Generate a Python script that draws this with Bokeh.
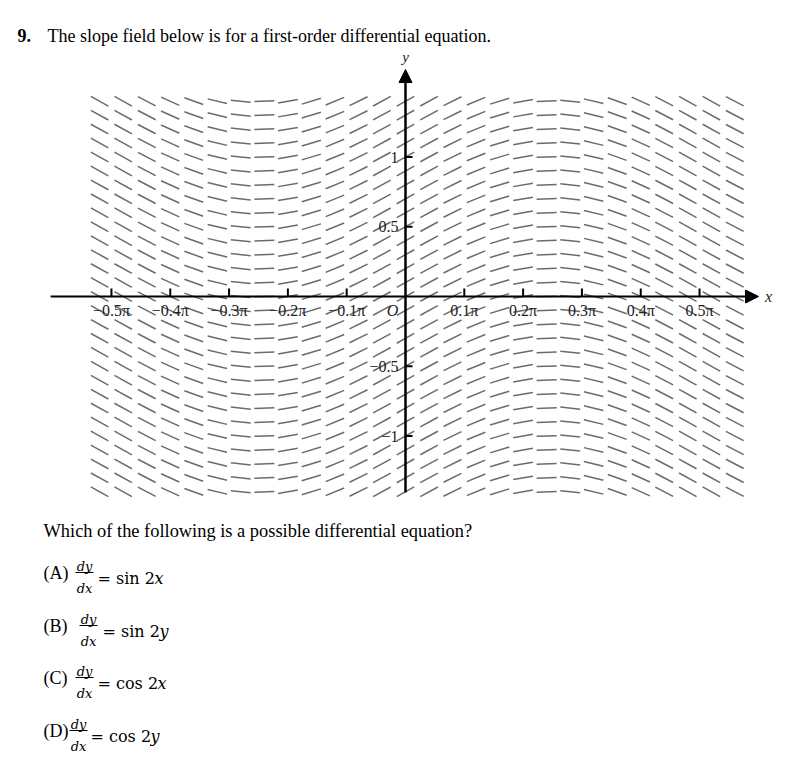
import math
from bokeh.plotting import figure
from bokeh.models import Range1d, Label, Arrow, NormalHead, BoxAnnotation, ColumnDataSource
from bokeh.core.properties import value
from bokeh.embed import file_html
from bokeh.resources import INLINE

# ---------------- data ----------------
# slope-field column positions (x, in radians) and the slope drawn in each column
x_cols = [-1.634, -1.508, -1.382, -1.257, -1.131, -1.005, -0.880, -0.754, -0.628,
          -0.503, -0.377, -0.251, -0.126, 0.000, 0.126, 0.251, 0.377, 0.503,
          0.628, 0.754, 0.880, 1.005, 1.131, 1.257, 1.382, 1.508, 1.634, 1.759]
col_slopes = [-0.99, -0.99, -0.93, -0.81, -0.64, -0.43, -0.19, 0.06, 0.31,
              0.54, 0.73, 0.88, 0.97, 1.00, 0.97, 0.88, 0.73, 0.54,
              0.31, 0.06, -0.19, -0.43, -0.64, -0.81, -0.93, -0.99, -0.99, -0.93]
# slope-field row positions (y)
y_rows = [-1.4, -1.3, -1.2, -1.1, -1.0, -0.9, -0.8, -0.7, -0.6, -0.5, -0.4, -0.3,
          -0.2, -0.1, 0.0, 0.1, 0.2, 0.3, 0.4, 0.5, 0.6, 0.7, 0.8, 0.9, 1.0,
          1.1, 1.2, 1.3, 1.4]

# axes
x_ticks = [-0.5 * math.pi, -0.4 * math.pi, -0.3 * math.pi, -0.2 * math.pi, -0.1 * math.pi,
           0.1 * math.pi, 0.2 * math.pi, 0.3 * math.pi, 0.4 * math.pi, 0.5 * math.pi]
x_tick_labels = ["\u22120.5\u03c0", "\u22120.4\u03c0", "\u22120.3\u03c0", "\u22120.2\u03c0", "\u22120.1\u03c0",
                 "0.1\u03c0", "0.2\u03c0", "0.3\u03c0", "0.4\u03c0", "0.5\u03c0"]
y_ticks = [1.0, 0.5, -0.5, -1.0]
y_tick_labels = ["1", "0.5", "\u22120.5", "\u22121"]
x_axis_extent = [-1.896, 1.886]
y_axis_extent = [-1.405, 1.627]

title_num = "9."
title_text = "The slope field below is for a first-order differential equation."
question = "Which of the following is a possible differential equation?"
option_letters = ["(A)", "(B)", "(C)", "(D)"]
option_rhs = ["= sin 2", "= sin 2", "= cos 2", "= cos 2"]
option_var = ["x", "y", "x", "y"]

# ---------------- figure ----------------
W, H = 774, 759
X0, X1 = -2.1635, 1.9712
Y0, Y1 = -3.3190, 2.1219
kx = W / (X1 - X0)   # px per x unit
ky = H / (Y1 - Y0)   # px per y unit
SEG_ASPECT = 0.56    # on-screen rise per unit slope (as drawn in the original)

p = figure(width=W, height=H, x_range=Range1d(X0, X1), y_range=Range1d(Y0, Y1),
           output_backend="svg", toolbar_location=None,
           x_axis_type=None, y_axis_type=None, min_border=0,
           outline_line_color=None, background_fill_color="white",
           border_fill_color="white")

# slope field: one short dash per grid point, rotated to the column's slope
fx, fy, fa = [], [], []
for xc, s in zip(x_cols, col_slopes):
    th = math.atan(s * SEG_ASPECT)
    for yr in y_rows:
        fx.append(xc); fy.append(yr); fa.append(th)
field = ColumnDataSource(dict(x=fx, y=fy, angle=fa))
p.scatter("x", "y", angle="angle", source=field, marker="dash", size=20,
          line_color="#3a3a3a", line_width=1.5, line_alpha=0.75)

# axes with arrows
p.add_layout(Arrow(x_start=x_axis_extent[0], y_start=0, x_end=x_axis_extent[1], y_end=0,
                   line_width=2, line_color="black",
                   end=NormalHead(size=13, fill_color="black", line_color="black")))
p.add_layout(Arrow(x_start=0, y_start=y_axis_extent[0], x_end=0, y_end=y_axis_extent[1],
                   line_width=2.5, line_color="black",
                   end=NormalHead(size=13, fill_color="black", line_color="black")))

# x ticks
tick_h = 8.0 / ky
p.segment(x0=x_ticks, y0=[0] * len(x_ticks), x1=x_ticks, y1=[tick_h] * len(x_ticks),
          line_color="black", line_width=2)
p.text(x=x_ticks, y=[0] * len(x_ticks), text=x_tick_labels, y_offset=14,
       text_align="center", text_baseline="middle", text_font=value("Liberation Serif"),
       text_font_size="16px", text_color="#222222")
p.text(x=[0], y=[0], text=["O"], x_offset=-13, y_offset=14, text_align="center",
       text_baseline="middle", text_font=value("Liberation Serif"),
       text_font_style="italic", text_font_size="16px", text_color="#222222")

# y ticks
tick_w = 7.0 / kx
p.segment(x0=[0] * len(y_ticks), y0=y_ticks, x1=[tick_w] * len(y_ticks), y1=y_ticks,
          line_color="black", line_width=2)
p.text(x=[0] * len(y_ticks), y=y_ticks, text=y_tick_labels, x_offset=-7,
       text_align="right", text_baseline="middle", text_font=value("Liberation Serif"),
       text_font_size="16px", text_color="#222222")

# axis names
p.text(x=[x_axis_extent[1]], y=[0], text=["x"], x_offset=10, text_align="center",
       text_baseline="middle", text_font=value("Liberation Serif"),
       text_font_style="italic", text_font_size="16px", text_color="#222222")
p.text(x=[0], y=[y_axis_extent[1]], text=["y"], y_offset=-13, text_align="center",
       text_baseline="middle", text_font=value("Liberation Serif"),
       text_font_style="italic", text_font_size="15px", text_color="#222222")

# ---------------- texts (screen units) ----------------
def lab(x, y, t, font="Liberation Serif", size="18px", style="normal",
        align="left", baseline="alphabetic"):
    p.add_layout(Label(x=x, y=y, x_units="screen", y_units="screen", text=t,
                       text_font=font, text_font_size=size, text_font_style=style,
                       text_align=align, text_baseline=baseline, text_color="black"))

lab(17, 724, title_num, style="bold")
lab(47, 724, title_text)
lab(43, 229, question, size="18.4px")

opt_y = [187, 134, 82, 29]
frac_x = [84, 88, 84, 78]
eq_x = [97, 102, 97, 90]
for i in range(4):
    cy = opt_y[i]
    lab(43, cy, option_letters[i], baseline="middle")
    lab(frac_x[i], cy + 6, "dy", font="DejaVu Serif", size="13px", style="italic",
        align="center")
    lab(frac_x[i], cy - 16, "dx", font="DejaVu Serif", size="13px", style="italic",
        align="center")
    p.add_layout(BoxAnnotation(left=frac_x[i] - 9, right=frac_x[i] + 9,
                               bottom=cy - 0.6, top=cy + 0.6,
                               left_units="screen", right_units="screen",
                               bottom_units="screen", top_units="screen",
                               fill_color="black", fill_alpha=1, line_color=None))
    lab(eq_x[i], cy - 6, option_rhs[i], font="DejaVu Serif", size="16px")
    off = 57 if "sin" in option_rhs[i] else 60
    lab(eq_x[i] + off, cy - 6, option_var[i], font="DejaVu Serif", size="16px",
        style="italic")

open("out.html", "w").write(file_html(p, INLINE))
